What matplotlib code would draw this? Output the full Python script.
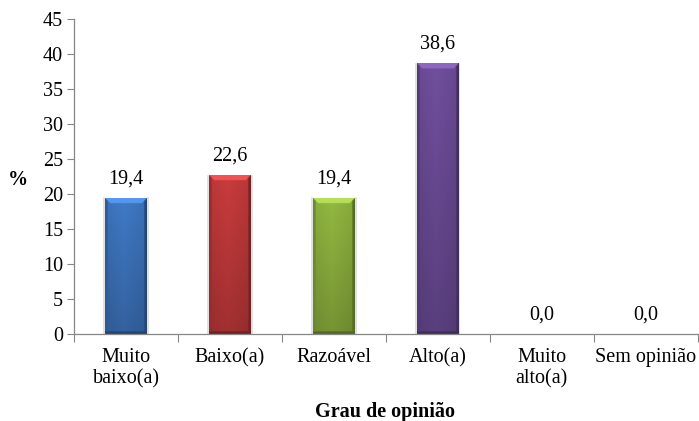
import numpy as np
import matplotlib
matplotlib.use('Agg')
import matplotlib.pyplot as plt
from matplotlib.colors import to_rgb

plt.rcParams['font.family'] = ['Liberation Serif', 'DejaVu Serif']

# Data
categories = ["Muito\nbaixo(a)", "Baixo(a)", "Razoável", "Alto(a)", "Muito\nalto(a)", "Sem opinião"]
values = [19.4, 22.6, 19.4, 38.6, 0.0, 0.0]
colors = ["#3d74bd", "#c0393a", "#8cb03e", "#6b4b96", "#4bacc6", "#f79646"]

fig = plt.figure(figsize=(6.99, 4.21), dpi=100)
ax = fig.add_axes([0.106, 0.207, 0.892, 0.748])

x = np.arange(len(categories))
bar_w = 0.4


def shaded_bar(ax, xc, h, color):
    # bevelled bar: darker sides and bottom, lighter top strip
    if h <= 0:
        return
    base = np.array(to_rgb(color))
    nx, ny = 80, 400
    u = np.linspace(0, 1, nx)
    v = np.linspace(0, 1, ny)  # 0 = bottom, 1 = top
    U, V = np.meshgrid(u, v)
    shade = 0.97 + 0.08 * (1 - np.abs(U - 0.45) * 2)
    shade = shade * (0.8 + 0.2 * V)
    img = base[None, None, :] * shade[..., None]
    edge = 0.06
    img[U < edge] = base * 0.78
    img[U > 1 - edge] = base * 0.62
    img[V < 0.35 / h] = base * 0.6
    # top bevel as trapezoid
    tb = 0.7 / h
    depth = (V - (1 - tb)) / tb  # 0 at inner edge, 1 at top
    top = (V > 1 - tb) & (U > 0.12 * (1 - depth)) & (U < 1 - 0.12 * (1 - depth))
    img[top] = np.clip(base * 1.2 + 0.05, 0, 1)
    img = np.clip(img, 0, 1)
    ax.imshow(img, extent=[xc - bar_w / 2, xc + bar_w / 2, 0, h], origin='lower',
              aspect='auto', interpolation='bilinear', zorder=3)
    ax.plot([xc - bar_w / 2 - 0.008, xc - bar_w / 2 - 0.008], [0, h], color='#dcdcdc', lw=1.2, zorder=2)
    ax.plot([xc + bar_w / 2 + 0.008, xc + bar_w / 2 + 0.008], [0, h], color='#dcdcdc', lw=1.2, zorder=2)


for xi, val, col in zip(x, values, colors):
    shaded_bar(ax, xi, val, col)
    ax.annotate(f"{val:.1f}".replace('.', ','), (xi, val), xytext=(0, 7),
                textcoords='offset points', ha='center', va='bottom', fontsize=14.5)

ax.set_xlim(-0.5, len(categories) - 0.5)
ax.set_ylim(0, 45)
ax.set_yticks(np.arange(0, 46, 5))
ax.set_xticks(np.arange(-0.5, len(categories), 1.0))
ax.set_xticklabels([])
ax.set_xticks(x, minor=True)
ax.set_xticklabels(categories, minor=True, fontsize=14.5, linespacing=1.15)
ax.tick_params(axis='x', which='minor', length=0, pad=10)
ax.tick_params(axis='x', which='major', length=6, color='#868686')
ax.tick_params(axis='y', length=5, color='#868686', labelsize=14.5, pad=3)

for side in ['top', 'right']:
    ax.spines[side].set_visible(False)
for side in ['left', 'bottom']:
    ax.spines[side].set_color('#868686')
    ax.spines[side].set_linewidth(0.9)
    ax.spines[side].set_zorder(5)

fig.text(0.026, 0.572, "%", fontsize=14.5, fontweight='bold', ha='center', va='center')
fig.text(0.551, 0.022, "Grau de opinião", fontsize=14.5, fontweight='bold', ha='center', va='center')

fig.savefig("out.png", dpi=100)
